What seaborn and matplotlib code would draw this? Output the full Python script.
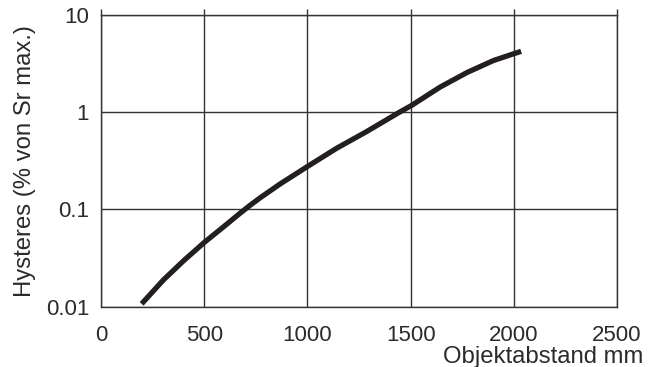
import seaborn as sns
import matplotlib.pyplot as plt
import pandas as pd

# values
distance_mm = [197, 302, 399, 499, 593, 673, 722, 770, 867, 1004, 1142,
               1287, 1440, 1505, 1642, 1772, 1901, 2001, 2035]
hysteresis_pct = [0.0107, 0.0188, 0.0295, 0.0455, 0.066, 0.091, 0.110, 0.131,
                  0.182, 0.279, 0.425, 0.63, 0.98, 1.17, 1.8, 2.54, 3.38, 3.98, 4.2]

x_ticks = [0, 500, 1000, 1500, 2000, 2500]
y_ticks = [0.01, 0.1, 1, 10]
y_tick_labels = ["0.01", "0.1", "1", "10"]

df = pd.DataFrame({"Objektabstand": distance_mm, "Hysteres": hysteresis_pct})

sns.set_style("white")
plt.rcParams["font.family"] = ["Liberation Sans", "DejaVu Sans"]
text_color = "#2b2b2b"
grid_color = "#333333"

fig = plt.figure(figsize=(6.6, 3.67), dpi=100)
ax = fig.add_axes([0.153, 0.1643, 0.782, 0.7957])

sns.lineplot(data=df, x="Objektabstand", y="Hysteres", ax=ax,
             color="#231f20", linewidth=3.8, solid_capstyle="butt")

ax.set_yscale("log")
ax.set_xlim(0, 2500)
ax.set_ylim(0.01, 10)
ax.set_xticks(x_ticks)
ax.set_xticklabels([str(t) for t in x_ticks])
ax.set_yticks(y_ticks)
ax.set_yticklabels(y_tick_labels)
ax.yaxis.set_minor_locator(plt.NullLocator())

ax.grid(True, which="major", color=grid_color, linewidth=1.0)
for s in ax.spines.values():
    s.set_color(grid_color)
    s.set_linewidth(1.0)

ax.tick_params(axis="both", labelsize=16, colors=text_color, width=1.0)
ax.tick_params(axis="x", direction="out", length=4.5, pad=9, top=True, color=grid_color)
ax.tick_params(axis="y", direction="out", length=5.5, pad=3, color=grid_color)

ax.set_ylabel("Hysteres (% von Sr max.)", fontsize=17.2, color=text_color, labelpad=7)
ax.set_xlabel("Objektabstand mm", fontsize=17.2, color=text_color, ha="right", va="center")
ax.xaxis.set_label_coords(1.05, -0.172)

fig.savefig("out.png", dpi=100)
